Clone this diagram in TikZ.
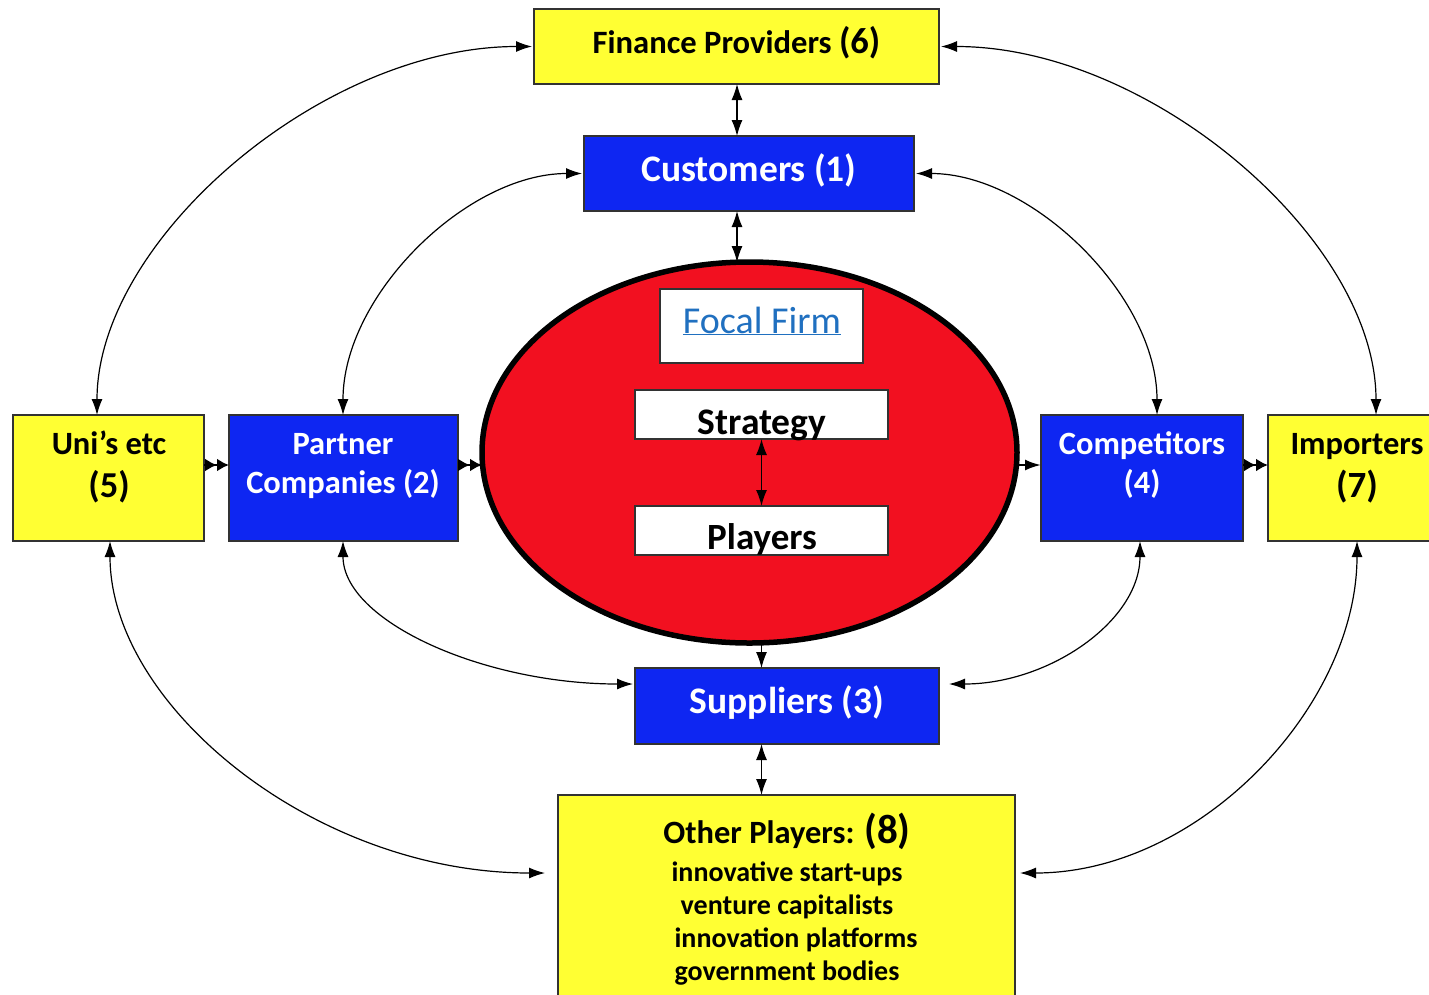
\documentclass[tikz,border=0pt]{standalone}
\usepackage{fontspec}
\setmainfont{Carlito}
\usetikzlibrary{arrows.meta,shapes.geometric}
\definecolor{boxyellow}{RGB}{255,255,51}
\definecolor{boxblue}{RGB}{14,38,242}
\definecolor{firmred}{RGB}{242,16,32}
\definecolor{linkblue}{RGB}{32,112,192}
\definecolor{edgegray}{RGB}{50,50,50}
\newcommand{\fsz}[1]{\fontsize{#1pt}{#1pt}\selectfont}
\begin{document}
\begin{tikzpicture}[x=1pt,y=-1pt,
  every node/.style={inner sep=0pt,outer sep=0pt,font=\bfseries},
  box/.style={draw=edgegray,line width=1.3pt,rectangle},
  ybox/.style={box,fill=boxyellow},
  bbox/.style={box,fill=boxblue},
  wbox/.style={box,fill=white},
  link/.style={line width=1.2pt,{Latex[length=16pt,width=11pt]}-{Latex[length=16pt,width=11pt]}},
  oneway/.style={line width=1.2pt,-{Latex[length=16pt,width=11pt]}},
  dbl/.style={line width=2.2pt,-{Latex[length=12pt,width=13pt]Latex[length=12pt,width=13pt]}},
  wtxt/.style={text=white,align=center},
  ktxt/.style={text=black,align=center}]
\useasboundingbox (0,0) rectangle (1429,994);

% outer ring of boxes
\node[ybox,minimum width=405pt,minimum height=75pt] (fin) at (736.5,46.5) {};
\node[bbox,minimum width=330pt,minimum height=75pt] (cust) at (749,173.5) {};
\node[ybox,minimum width=191pt,minimum height=126pt] (uni) at (108.5,478) {};
\node[bbox,minimum width=229pt,minimum height=126pt] (part) at (343.5,478) {};
\node[bbox,minimum width=202pt,minimum height=126pt] (comp) at (1142,478) {};
\node[ybox,minimum width=191pt,minimum height=126pt] (imp) at (1363.5,478) {};
\node[bbox,minimum width=304pt,minimum height=76pt] (sup) at (787,706) {};
\node[ybox,minimum width=457pt,minimum height=230pt] (oth) at (786.5,910) {};

% focal firm
\node[draw=black,line width=5.5pt,ellipse,fill=firmred,minimum width=535pt,minimum height=381pt] (firm) at (749.5,452.5) {};
\node[wbox,line width=1.2pt,minimum width=203pt,minimum height=74pt] (focal) at (761.5,326) {};
\node[wbox,line width=1.2pt,minimum width=253pt,minimum height=49pt] (strat) at (761.5,414.5) {};
\node[wbox,line width=1.2pt,minimum width=253pt,minimum height=49pt] (play) at (761.5,530.5) {};

% labels
\node[ktxt] (finT) at (736.5,43) {\fsz{32.6}Finance Providers \fsz{36.5}(6)};
\node[wtxt] (custT) at (749,170) {\fsz{37.5}Customers (1)};
\node[anchor=base] (focalT) at (762,333) {\fsz{38}\mdseries\color{linkblue}\underline{Focal Firm}};
\node[anchor=base,ktxt] (stratT) at (762,434) {\fsz{37.5}Strategy};
\node[anchor=base,ktxt] (playT) at (762,549) {\fsz{37}Players};
\node[ktxt,anchor=base] (uniT1) at (109,454) {\fsz{32.5}Uni’s etc};
\node[ktxt,anchor=base] (uniT2) at (109,497) {\fsz{36.5}(5)};
\node[wtxt,anchor=base] (partT1) at (343,454) {\fsz{32.5}Partner};
\node[wtxt,anchor=base] (partT2) at (343,493) {\fsz{32.5}Companies (2)};
\node[wtxt,anchor=base] (compT1) at (1142,454) {\fsz{32.5}Competitors};
\node[wtxt,anchor=base] (compT2) at (1142,493) {\fsz{32.5}(4)};
\node[ktxt,anchor=base] (impT1) at (1357,454) {\fsz{32.5}Importers};
\node[ktxt,anchor=base] (impT2) at (1357,497) {\fsz{37}(7)};
\node[wtxt,anchor=base] (supT) at (787,713) {\fsz{37.5}Suppliers (3)};
\node[ktxt,anchor=base] (othT) at (787,843) {\fsz{32.5}Other Players: \fsz{41}(8)};
\node[ktxt,anchor=base] (othA) at (787,881) {\fsz{28}innovative start-ups};
\node[ktxt,anchor=base] (othB) at (787,914) {\fsz{28}venture capitalists};
\node[ktxt,anchor=base] (othC) at (796,947) {\fsz{28}innovation platforms};
\node[ktxt,anchor=base] (othD) at (787,980) {\fsz{28}government bodies};

% straight connectors
\draw[link] ([xshift=-12pt]cust.north |- fin.south) -- ([xshift=-12pt]cust.north);
\draw[link] ([xshift=-12pt]cust.south) -- ([xshift=-12pt]cust.south |- firm.north);
\draw[link,line width=1.4pt] (strat.south) -- (play.north);
\draw[oneway] (firm.south -| play.south) -- (sup.north -| play.south);
\draw[link] (sup.south -| play.south) -- (oth.north -| play.south);
\draw[dbl] ([yshift=13pt]uni.east) -- ([yshift=13pt]part.west);
\draw[dbl] ([yshift=13pt]part.east) -- ([yshift=-12.5pt]firm.west);
\draw[oneway,line width=2.2pt] ([yshift=-12.5pt]firm.east) -- ([yshift=13pt]comp.west);
\draw[dbl] ([yshift=13pt]comp.east) -- ([yshift=13pt]imp.west);

% curved connectors
\draw[link] ([xshift=-11.5pt]uni.north) .. controls +(0,-175) and +(-210,0) .. ([xshift=-2pt]fin.west);
\draw[link] ([xshift=2pt]fin.east) .. controls +(210,0) and +(0,-175) .. ([xshift=12.5pt]imp.north);
\draw[link] ([xshift=-0.5pt]part.north) .. controls +(0,-120) and +(-115,0) .. ([xshift=-2pt]cust.west);
\draw[link] ([xshift=2pt]cust.east) .. controls +(115,0) and +(0,-120) .. ([xshift=15pt]comp.north);
\draw[link] ([xshift=-0.5pt]part.south) .. controls +(0,80) and +(-150,0) .. ([xshift=-2pt,yshift=22pt]sup.west);
\draw[link] ([xshift=-2pt]comp.south) .. controls +(0,80) and +(100,0) .. ([xshift=10pt,yshift=22pt]sup.east);
\draw[link] ([xshift=1.5pt]uni.south) .. controls +(0,165) and +(-230,0) .. ([xshift=-13pt,yshift=37pt]oth.west);
\draw[link] ([xshift=-6.5pt]imp.south) .. controls +(0,165) and +(180,0) .. ([xshift=5pt,yshift=37pt]oth.east);
\end{tikzpicture}
\end{document}
